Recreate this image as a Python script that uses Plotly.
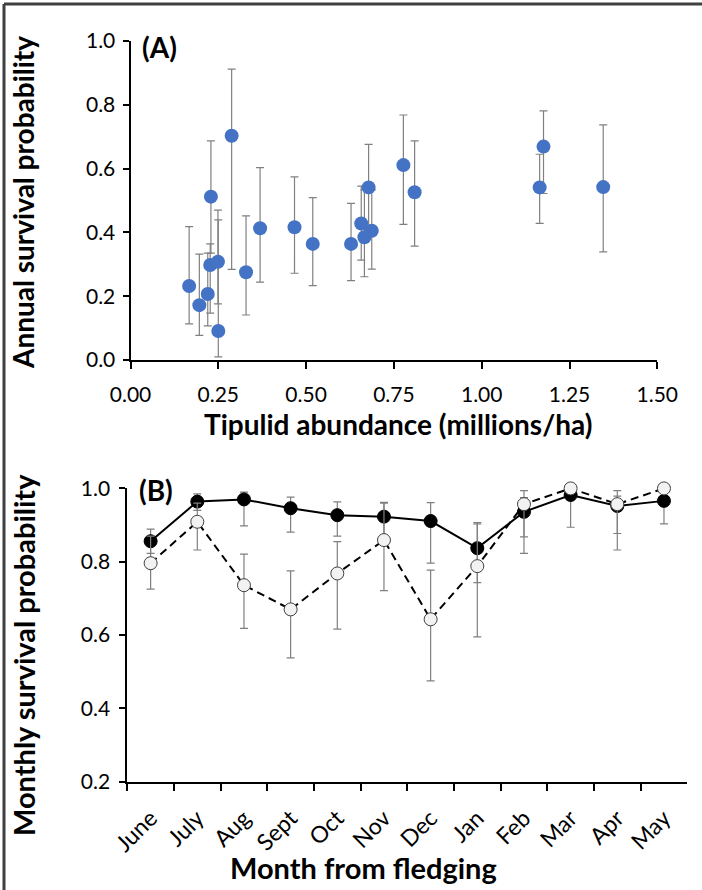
import plotly.graph_objects as go

# Panel A: annual survival vs tipulid abundance
tipulid = [0.167, 0.196, 0.220, 0.227, 0.229, 0.249, 0.250, 0.288, 0.329, 0.369,
           0.467, 0.519, 0.628, 0.657, 0.666, 0.678, 0.687, 0.777, 0.809, 1.165,
           1.176, 1.346]
annual = [0.232, 0.172, 0.207, 0.298, 0.512, 0.308, 0.091, 0.703, 0.275, 0.413,
          0.416, 0.364, 0.364, 0.428, 0.385, 0.541, 0.405, 0.611, 0.526, 0.541,
          0.669, 0.542]
annual_hi = [0.418, 0.332, 0.335, 0.364, 0.687, 0.470, 0.439, 0.912, 0.452, 0.603,
             0.574, 0.509, 0.491, 0.545, 0.533, 0.676, 0.533, 0.768, 0.687, 0.645,
             0.781, 0.737]
annual_lo = [0.113, 0.077, 0.107, 0.147, 0.335, 0.176, 0.010, 0.284, 0.141, 0.244,
             0.272, 0.233, 0.249, 0.313, 0.261, 0.405, 0.285, 0.425, 0.357, 0.428,
             0.522, 0.339]

# Panel B: monthly survival, two groups
months = ["June", "July", "Aug", "Sept", "Oct", "Nov", "Dec", "Jan", "Feb", "Mar", "Apr", "May"]
solid = [0.856, 0.964, 0.970, 0.946, 0.927, 0.923, 0.911, 0.837, 0.936, 0.982, 0.952, 0.966]
solid_hi = [0.889, 0.985, 0.990, 0.976, 0.963, 0.962, 0.961, 0.907, 0.975, 0.998, 0.994, 0.990]
solid_lo = [0.823, 0.940, 0.898, 0.881, 0.870, 0.870, 0.796, 0.743, 0.823, 0.894, 0.832, 0.903]
hollow = [0.796, 0.909, 0.736, 0.670, 0.768, 0.859, 0.643, 0.788, 0.957, 1.000, 0.957, 1.000]
hollow_hi = [0.870, 0.960, 0.821, 0.775, 0.855, 0.960, 0.777, 0.903, 0.994, 1.000, 0.979, 1.000]
hollow_lo = [0.725, 0.832, 0.618, 0.538, 0.616, 0.721, 0.475, 0.595, 0.868, 1.000, 0.877, 1.000]

W, H = 702, 890
FONT = "Lato"
ERR = "#808080"


def px(v):
    return v / W


def py(v):
    return 1 - v / H


def errs(y, hi, lo, cap):
    return dict(type="data", array=[h - v for h, v in zip(hi, y)],
                arrayminus=[v - l for v, l in zip(y, lo)],
                color=ERR, thickness=1.2, width=cap)


fig = go.Figure()

fig.add_trace(go.Scatter(
    x=tipulid, y=annual, mode="markers", xaxis="x", yaxis="y",
    marker=dict(size=14, color="#4472C4"),
    error_y=errs(annual, annual_hi, annual_lo, 4),
    cliponaxis=False, showlegend=False))

fig.add_trace(go.Scatter(
    x=months, y=solid, mode="lines+markers", xaxis="x2", yaxis="y2",
    line=dict(color="black", width=2),
    marker=dict(size=13, color="black", line=dict(color="black", width=1)),
    error_y=errs(solid, solid_hi, solid_lo, 4),
    cliponaxis=False, showlegend=False))

fig.add_trace(go.Scatter(
    x=months, y=hollow, mode="lines+markers", xaxis="x2", yaxis="y2",
    line=dict(color="black", width=2, dash="8px,5px"),
    marker=dict(size=13, color="#F2F2F2", line=dict(color="#404040", width=1)),
    error_y=errs(hollow, hollow_hi, hollow_lo, 4),
    cliponaxis=False, showlegend=False))

axis_common = dict(showline=True, linecolor="black", linewidth=2, showgrid=False,
                   zeroline=False, ticks="outside", tickcolor="black", tickwidth=1.5,
                   automargin=False,
                   tickfont=dict(family=FONT, size=21, color="black"))

fig.update_layout(
    width=W, height=H,
    margin=dict(l=0, r=0, t=0, b=0, autoexpand=False),
    paper_bgcolor="white", plot_bgcolor="white",
    font=dict(family=FONT, color="black"),
    xaxis=dict(axis_common, domain=[px(130.5), px(657.3)], range=[0, 1.5],
               tickvals=[0, 0.25, 0.5, 0.75, 1.0, 1.25, 1.5], tickformat=".2f",
               ticklen=7, ticklabelstandoff=8, anchor="y"),
    yaxis=dict(axis_common, domain=[py(360), py(41)], range=[0, 1.0],
               dtick=0.2, tickformat=".1f", ticklen=6, ticklabelstandoff=3, anchor="x"),
    xaxis2=dict(axis_common, domain=[px(127.3), px(687.3)], type="category",
                range=[-0.5, 11.5], tickson="boundaries", tickangle=-45,
                ticklen=7, ticklabelstandoff=12, anchor="y2",
                tickfont=dict(family=FONT, size=23, color="black")),
    yaxis2=dict(axis_common, domain=[py(781.7), py(488.4)], range=[0.2, 1.0],
                dtick=0.2, tickformat=".1f", ticklen=6, ticklabelstandoff=5, anchor="x2"),
)

font_a = dict(family=FONT, size=28, color="black")
font_b = dict(family=FONT, size=29, color="black")
notes = [
    dict(text="<b>Annual survival probability</b>", x=px(23), y=py(203), textangle=-90, font=font_a),
    dict(text="<b>Tipulid abundance (millions/ha)</b>", x=px(398), y=py(424), font=font_a),
    dict(text="<b>Monthly survival probability</b>", x=px(23), y=py(655), textangle=-90, font=font_b),
    dict(text="<b>Month from fledging</b>", x=px(363), y=py(867), font=font_b),
    dict(text="<b>(A)</b>", x=px(140), y=py(47), xanchor="left", font=font_a),
    dict(text="<b>(B)</b>", x=px(137), y=py(490), xanchor="left", font=font_a),
]
for n in notes:
    n.setdefault("xanchor", "center")
    fig.add_annotation(xref="paper", yref="paper", showarrow=False,
                       yanchor="middle", **n)

# outer frame (left and top edges visible)
fig.add_shape(type="line", xref="paper", yref="paper", x0=px(4), x1=px(4), y0=0, y1=py(4),
              line=dict(color="#404040", width=3))
fig.add_shape(type="line", xref="paper", yref="paper", x0=px(4), x1=1, y0=py(4), y1=py(4),
              line=dict(color="#404040", width=3))

fig.write_html("out.html", config={"displayModeBar": False},
               post_script="document.body.style.margin='0';")
